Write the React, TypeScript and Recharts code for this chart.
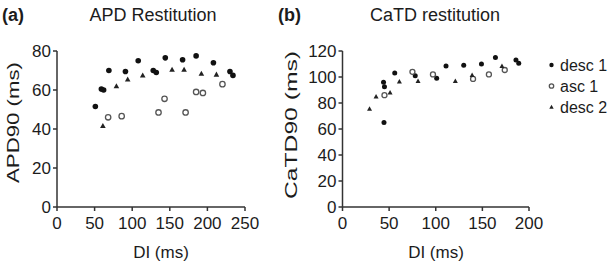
import React from 'react';
import { ScatterChart, Scatter, XAxis, YAxis } from 'recharts';

// [DI, value] pairs
const apdDesc1 = [
  [51, 51.5], [59, 60.5], [62, 60], [69, 70], [91, 69.5], [108, 75], [128, 70], [132, 69],
  [144, 76.5], [167, 75.5], [185, 77.5], [208, 74], [230, 69.5], [234, 67.5],
];
const apdAsc1 = [
  [68, 46], [86, 46.6], [135, 48.5], [143, 55.5], [171, 48.5], [185, 59], [194, 58.5], [220, 63],
];
const apdDesc2 = [
  [61, 41.6], [79, 62], [94, 65.5], [114, 67.5], [153, 70.5], [169, 70.5], [192, 68.5], [212, 68],
];

const catdDesc1 = [
  [44, 96], [45, 92.5], [44.5, 65], [56, 103], [78, 101], [101, 99], [111, 108.5], [130, 109],
  [149, 110], [164, 115], [186, 113], [189, 110.5],
];
const catdAsc1 = [[45, 86], [75, 104], [97, 102], [140, 98.5], [157, 102], [174, 105.4]];
const catdDesc2 = [
  [29, 75.5], [36, 85], [51, 88], [61, 96.5], [81, 97], [121, 97], [139, 101.5], [171, 108.5],
];

const apdXTicks = [0, 50, 100, 150, 200, 250];
const apdYTicks = [0, 20, 40, 60, 80];
const catdXTicks = [0, 50, 100, 150, 200];
const catdYTicks = [0, 20, 40, 60, 80, 100, 120];

const legendLabels = ['desc 1', 'asc 1', 'desc 2'];

const FONT = '"Liberation Sans", Arial, sans-serif';
const INK = '#1c1c1c';

const toPoints = (pairs: number[][]) => pairs.map(([x, y]) => ({ x, y }));

function FilledDot(props: any) {
  const r = props.r ?? 2.8;
  return <circle cx={props.cx} cy={props.cy} r={r} fill="#111" />;
}

function OpenDot(props: any) {
  const r = props.r ?? 2.7;
  return <circle cx={props.cx} cy={props.cy} r={r} fill="#fff" stroke="#555" strokeWidth={1.3} />;
}

function Triangle(props: any) {
  const s = props.s ?? 2.8;
  const { cx, cy } = props;
  return (
    <polygon
      points={`${cx},${cy - s} ${cx - s},${cy + s * 0.8} ${cx + s},${cy + s * 0.8}`}
      fill="#222"
    />
  );
}

const axisStyle = {
  stroke: '#333',
  strokeWidth: 1.5,
  tickSize: 4,
  tick: { fontSize: 17, fill: INK, fontFamily: FONT },
};

export default function App() {
  return (
    <div style={{ position: 'absolute', left: 0, top: 0, width: 609, height: 268, background: '#fff' }}>
      {/* (a) APD */}
      <div style={{ position: 'absolute', left: 0, top: 0 }}>
        <ScatterChart width={285} height={268} margin={{ top: 51, right: 40, bottom: 0, left: 0 }}>
          <XAxis
            type="number"
            dataKey="x"
            domain={[0, 250]}
            ticks={apdXTicks}
            height={61}
            tickMargin={6}
            {...axisStyle}
          />
          <YAxis
            type="number"
            dataKey="y"
            domain={[0, 80]}
            ticks={apdYTicks}
            width={57}
            tickMargin={2}
            {...axisStyle}
          />
          <Scatter data={toPoints(apdDesc1)} shape={<FilledDot />} isAnimationActive={false} />
          <Scatter data={toPoints(apdAsc1)} shape={<OpenDot />} isAnimationActive={false} />
          <Scatter data={toPoints(apdDesc2)} shape={<Triangle />} isAnimationActive={false} />
        </ScatterChart>
      </div>

      {/* (b) CaTD */}
      <div style={{ position: 'absolute', left: 285, top: 0 }}>
        <ScatterChart width={324} height={268} margin={{ top: 51, right: 80, bottom: 0, left: 0 }}>
          <XAxis
            type="number"
            dataKey="x"
            domain={[0, 200]}
            ticks={catdXTicks}
            height={61}
            tickMargin={6}
            {...axisStyle}
          />
          <YAxis
            type="number"
            dataKey="y"
            domain={[0, 120]}
            ticks={catdYTicks}
            width={57.5}
            tickMargin={2}
            {...axisStyle}
          />
          <Scatter data={toPoints(catdDesc1)} shape={<FilledDot r={2.5} />} isAnimationActive={false} />
          <Scatter data={toPoints(catdAsc1)} shape={<OpenDot r={2.5} />} isAnimationActive={false} />
          <Scatter data={toPoints(catdDesc2)} shape={<Triangle s={2.5} />} isAnimationActive={false} />
        </ScatterChart>
      </div>

      {/* titles, axis labels, legend */}
      <svg
        width={609}
        height={268}
        style={{ position: 'absolute', left: 0, top: 0, pointerEvents: 'none' }}
        fontFamily={FONT}
        fill={INK}
      >
        <text x={2} y={21} fontSize={18} fontWeight="bold">(a)</text>
        <text x={153} y={21} fontSize={18} textAnchor="middle">APD Restitution</text>
        <text x={278} y={21} fontSize={18} fontWeight="bold">(b)</text>
        <text x={435} y={21} fontSize={18} textAnchor="middle">CaTD restitution</text>

        <text
          transform="translate(18.5,122.5) rotate(-90)"
          fontSize={17}
          textAnchor="middle"
          textLength={121}
          lengthAdjust="spacingAndGlyphs"
        >
          APD90 (ms)
        </text>
        <text
          transform="translate(297,125) rotate(-90)"
          fontSize={17}
          textAnchor="middle"
          textLength={148}
          lengthAdjust="spacingAndGlyphs"
        >
          CaTD90 (ms)
        </text>

        <text x={161} y={258} fontSize={17} textAnchor="middle">DI (ms)</text>
        <text x={436} y={258} fontSize={17} textAnchor="middle">DI (ms)</text>

        {legendLabels.map((label, i) => {
          const y = 65 + i * 21;
          const Marker = i === 0 ? FilledDot : i === 1 ? OpenDot : Triangle;
          return (
            <g key={label}>
              <Marker cx={551.5} cy={y} r={2.2} s={2.2} />
              <text x={560} y={y + 6} fontSize={16}>{label}</text>
            </g>
          );
        })}
      </svg>
    </div>
  );
}
